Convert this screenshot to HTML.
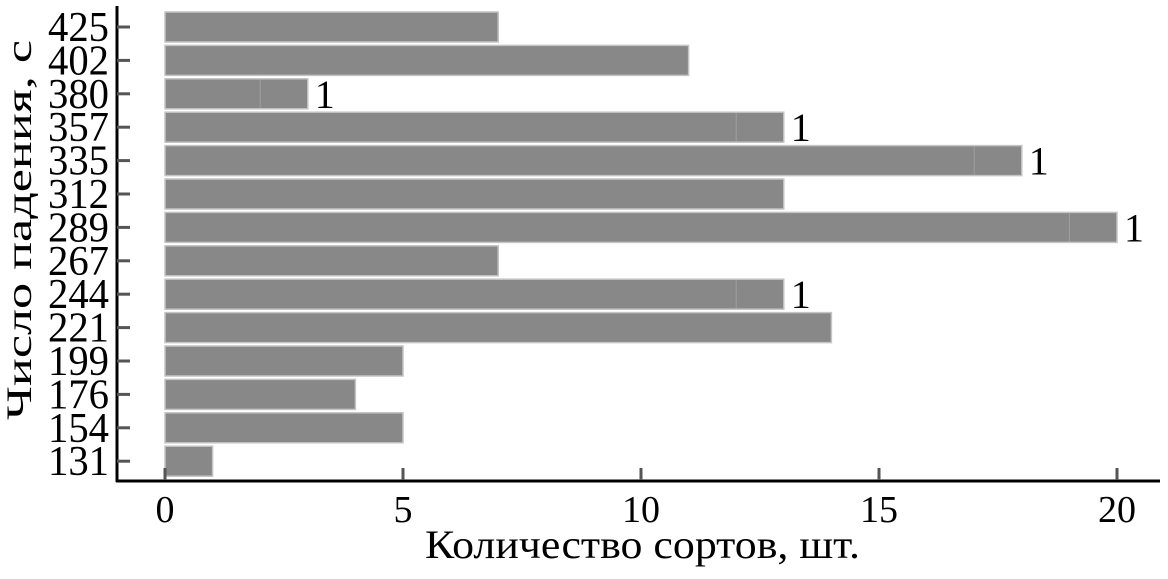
<!DOCTYPE html><html><head><style>body{margin:0;background:#fff}</style></head><body>
<svg width="1168" height="574" xmlns="http://www.w3.org/2000/svg" font-family="Liberation Serif, serif">
<g id="bars"></g>
<line x1="117" y1="6" x2="117" y2="482" stroke="#000" stroke-width="3"/>
<line x1="116" y1="481" x2="1160" y2="481" stroke="#000" stroke-width="3"/>
<g font-size="42" text-anchor="end" id="yl"></g>
<g font-size="38" text-anchor="middle">
<text x="165" y="522">0</text><text x="403" y="522">5</text><text x="641" y="522">10</text><text x="879" y="522">15</text><text x="1117" y="522">20</text>
</g>
<text x="425" y="558" font-size="40" textLength="435" lengthAdjust="spacingAndGlyphs">Количество сортов, шт.</text>
<text transform="translate(31,420) rotate(-90)" font-size="36" textLength="380" lengthAdjust="spacingAndGlyphs">Число падения, с</text>
<g stroke="#555" stroke-width="3">
<line x1="165" y1="480" x2="165" y2="468"/><line x1="403" y1="480" x2="403" y2="468"/><line x1="641" y1="480" x2="641" y2="468"/><line x1="879" y1="480" x2="879" y2="468"/><line x1="1117" y1="480" x2="1117" y2="468"/>
</g>
<g id="yt" stroke="#555" stroke-width="3"></g>
</svg>
<script>
var d=[[425,7,0],[402,11,0],[380,3,2],[357,13,12],[335,18,17],[312,13,0],[289,20,19],[267,7,0],[244,13,12],[221,14,0],[199,5,0],[176,4,0],[154,5,0],[131,1,0]];
var ns="http://www.w3.org/2000/svg",b=document.getElementById("bars"),yl=document.getElementById("yl"),yt=document.getElementById("yt");
function el(p,t,a,tx){var e=document.createElementNS(ns,t);for(var k in a)e.setAttribute(k,a[k]);if(tx)e.textContent=tx;p.appendChild(e);return e;}
d.forEach(function(r,i){var c=27+33.4*i,w=r[1]*47.6;
el(b,"rect",{x:165,y:c-15,width:w,height:30,fill:"#888",stroke:"#c4c4c4","stroke-width":1.5});
if(r[2]){el(b,"line",{x1:165+r[2]*47.6,y1:c-14,x2:165+r[2]*47.6,y2:c+14,stroke:"#a0a0a0","stroke-width":1});
el(b,"text",{x:165+w+7,y:c+14,"font-size":40},"1");}
el(yl,"text",{x:109,y:c+14,textLength:61,lengthAdjust:"spacingAndGlyphs"},String(r[0]));
el(yt,"line",{x1:117,y1:c,x2:130,y2:c});});
</script>
</body></html>
